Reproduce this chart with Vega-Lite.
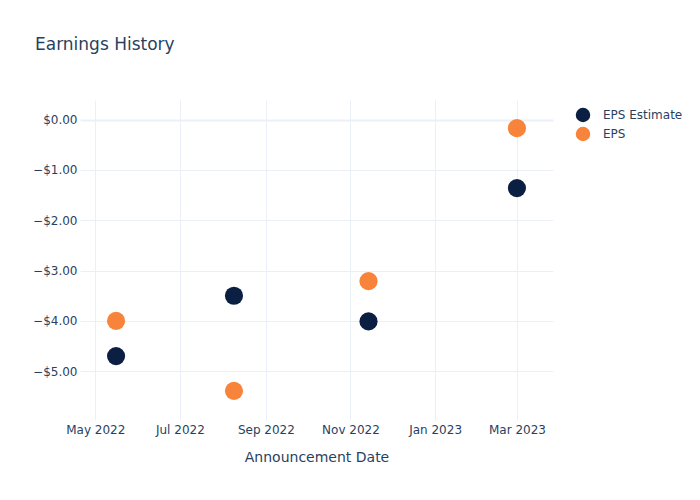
{
  "$schema": "https://vega.github.io/schema/vega-lite/v6.json",
  "width": 473,
  "height": 320,
  "autosize": {"type": "none"},
  "padding": {"left": 80, "top": 100, "right": 147, "bottom": 80},
  "background": "white",
  "config": {
    "font": "DejaVu Sans",
    "view": {"stroke": null},
    "axis": {"labelColor": "#2a3f5f", "titleColor": "#2a3f5f", "labelFontSize": 12, "gridColor": "#ebf0f8", "domain": false, "ticks": false}
  },
  "title": {
    "text": "Earnings History",
    "anchor": "start",
    "frame": "group",
    "dx": -45,
    "offset": 46,
    "fontSize": 17,
    "fontWeight": "normal",
    "color": "#2a3f5f"
  },
  "data": {
    "values": [
      {"date": "2022-05-16T00:00:00", "type": "EPS Estimate", "value": -4.70},
      {"date": "2022-05-16T00:00:00", "type": "EPS", "value": -4.00},
      {"date": "2022-08-09T00:00:00", "type": "EPS Estimate", "value": -3.50},
      {"date": "2022-08-09T00:00:00", "type": "EPS", "value": -5.39},
      {"date": "2022-11-14T00:00:00", "type": "EPS Estimate", "value": -4.01},
      {"date": "2022-11-14T00:00:00", "type": "EPS", "value": -3.21},
      {"date": "2023-03-01T00:00:00", "type": "EPS Estimate", "value": -1.36},
      {"date": "2023-03-01T00:00:00", "type": "EPS", "value": -0.17}
    ]
  },
  "mark": {"type": "circle", "size": 330, "opacity": 1},
  "encoding": {
    "x": {
      "field": "date",
      "type": "temporal",
      "title": "Announcement Date",
      "scale": {"domain": [{"year": 2022, "month": 4, "date": 20}, {"year": 2023, "month": 3, "date": 27}]},
      "axis": {
        "values": [
          {"year": 2022, "month": 5, "date": 1},
          {"year": 2022, "month": 7, "date": 1},
          {"year": 2022, "month": 9, "date": 1},
          {"year": 2022, "month": 11, "date": 1},
          {"year": 2023, "month": 1, "date": 1},
          {"year": 2023, "month": 3, "date": 1}
        ],
        "format": "%b %Y",
        "labelPadding": 4,
        "titleFontSize": 14,
        "titleFontWeight": "normal",
        "titlePadding": 15,
        "labelFlush": false
      }
    },
    "y": {
      "field": "value",
      "type": "quantitative",
      "title": null,
      "scale": {"domain": [-5.97, 0.39], "nice": false, "zero": false},
      "axis": {
        "values": [0, -1, -2, -3, -4, -5],
        "format": "$.2f",
        "labelPadding": 3,
        "gridWidth": {"condition": {"test": "datum.value === 0", "value": 2}, "value": 1}
      }
    },
    "color": {
      "field": "type",
      "type": "nominal",
      "scale": {"domain": ["EPS Estimate", "EPS"], "range": ["#0b1f42", "#f7843a"]},
      "legend": {
        "title": null,
        "orient": "none",
        "legendX": 495,
        "legendY": 7,
        "symbolType": "circle",
        "symbolSize": 210,
        "symbolOpacity": 1,
        "labelFontSize": 12,
        "labelColor": "#2a3f5f",
        "labelOffset": 12,
        "rowPadding": 3,
        "padding": 0
      }
    }
  }
}
